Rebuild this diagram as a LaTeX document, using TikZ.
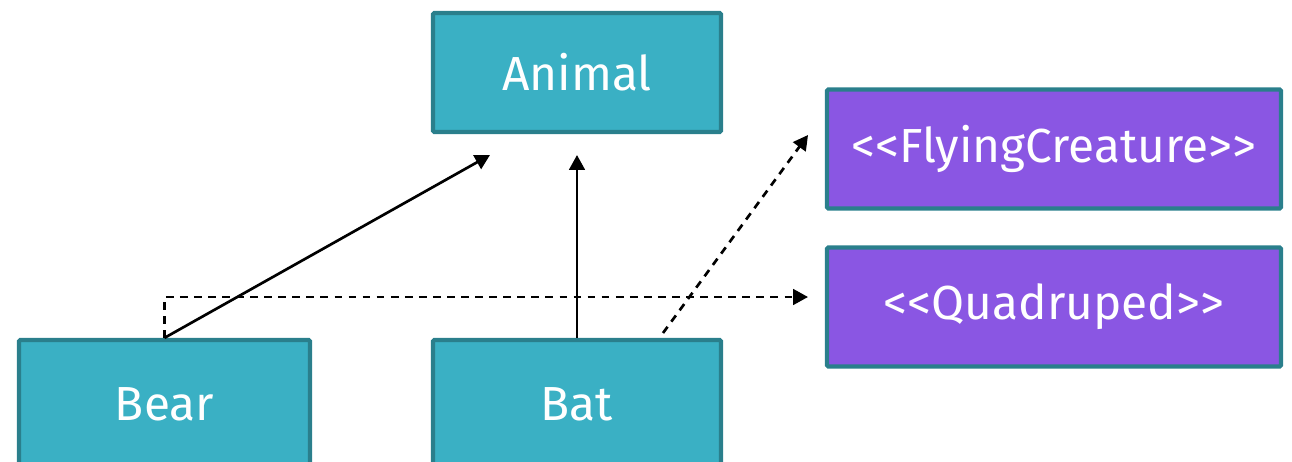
\documentclass[tikz,border=0pt]{standalone}
\usepackage{fontspec}
\setmainfont{Fira Sans}
\usetikzlibrary{arrows.meta}
\definecolor{boxteal}{HTML}{3AB0C4}
\definecolor{boxedge}{HTML}{2A7F8C}
\definecolor{boxpurple}{HTML}{8A56E3}

\begin{document}
\begin{tikzpicture}[x=0.025cm, y=-0.025cm,
    cls/.style={rectangle, draw=boxedge, line width=3pt, fill=boxteal, text=white,
        minimum width=7.2cm, minimum height=2.975cm, rounded corners=1pt,
        font=\fontsize{34}{40}\selectfont},
    iface/.style={cls, fill=boxpurple, minimum width=11.35cm},
    arr/.style={line width=1.9pt, -{Triangle[length=10.5pt,width=11pt]}},
    dsh/.style={arr, dash pattern=on 5.5pt off 4.5pt}]
    \useasboundingbox (0,0) rectangle (1292,461);
    % classes
    \node[cls] (animal) at (577,72.5) {Animal};
    \node[cls, minimum width=7.275cm, minimum height=3.2cm] (bear) at (164.5,404) {Bear};
    \node[cls, minimum height=3.2cm] (bat) at (577,404) {Bat};
    % interfaces
    \node[iface] (flying) at (1054,149) {<{}<FlyingCreature>{}>};
    \node[iface] (quad) at (1054,307) {<{}<Quadruped>{}>};
    % arrow ends
    \coordinate (animalL) at (490,155);
    \coordinate (batOut) at (663,333);
    \coordinate (flyIn) at (808,135);
    \coordinate (quadIn) at (808,297);
    \draw[arr] (bear.north) -- (animalL);
    \draw[arr] (bat.north) -- (bat.north |- animalL);
    \draw[dsh] (bear.north) |- (quadIn);
    \draw[dsh] (batOut) -- (flyIn);
\end{tikzpicture}
\end{document}
